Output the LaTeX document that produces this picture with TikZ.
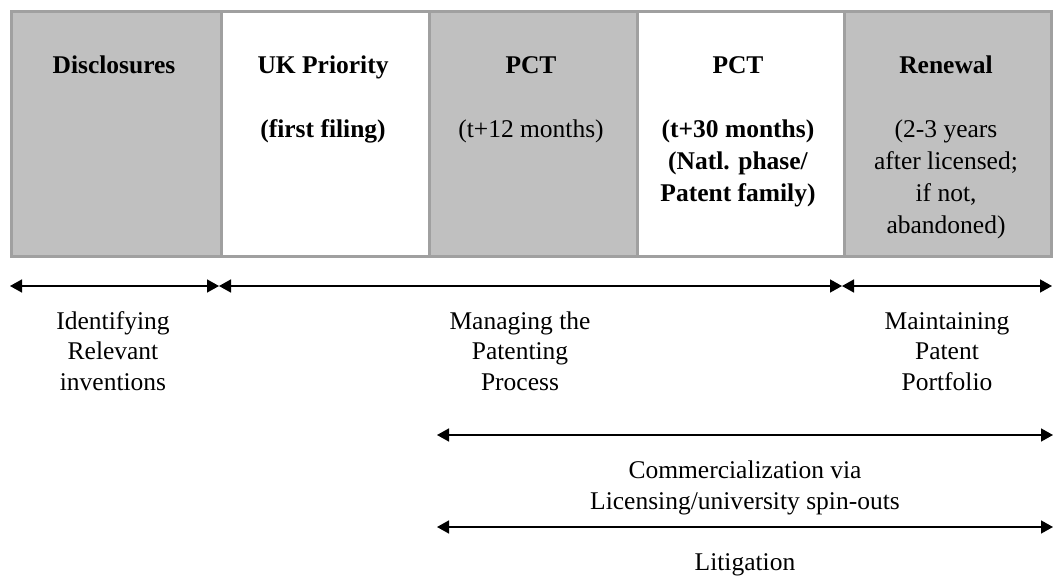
\documentclass[tikz,border=0pt]{standalone}
\usepackage{fontspec}
\setmainfont{Liberation Serif}
\usetikzlibrary{arrows.meta}
\definecolor{boxgray}{HTML}{C0C0C0}
\definecolor{edgegray}{HTML}{A0A0A0}
\begin{document}
\begin{tikzpicture}[x=1bp,y=-1bp,
  col/.style={draw=edgegray, line width=3bp, rectangle, inner sep=0pt, anchor=north west, minimum height=245bp},
  btxtbase/.style={align=center, inner sep=0pt, anchor=base},
  txt/.style={btxtbase, font=\fontsize{25.5bp}{30.5bp}\selectfont},
  ctxt/.style={btxtbase, font=\fontsize{25.5bp}{32bp}\selectfont},
  btxt/.style={btxtbase, font=\fontsize{25.5bp}{32bp}\selectfont\bfseries},
  span/.style={{Triangle[length=12bp,width=13bp]}-{Triangle[length=12bp,width=13bp]}, line width=1.6bp}]
\useasboundingbox (0,0) rectangle (1053,578);
% columns
\node[col, fill=boxgray, minimum width=210bp] (c1) at (10,10) {};
\node[col, fill=white,   minimum width=208bp] (c2) at (220,10) {};
\node[col, fill=boxgray, minimum width=208bp] (c3) at (428,10) {};
\node[col, fill=white,   minimum width=207bp] (c4) at (636,10) {};
\node[col, fill=boxgray, minimum width=207bp] (c5) at (843,10) {};
% column texts (base anchor = baseline of last line)
\node[btxt] (t1) at (114,74) {Disclosures};
\node[btxt] (t2) at (323,74) {UK Priority};
\node[btxt] (s2) at (323,138) {(first filing)};
\node[btxt] (t3) at (531,74) {PCT};
\node[ctxt] (s3) at (531,138) {(t+12 months)};
\node[btxt] (t4) at (738,74) {PCT};
\node[btxt] (s4) at (738,202) {(t+30 months)\\(Natl. phase/\\Patent family)};
\node[btxt] (t5) at (946,74) {Renewal};
\node[ctxt] (s5) at (946,234) {(2-3 years\\after licensed;\\if not,\\abandoned)};
% spans
\coordinate (a0) at (10,286);
\coordinate (a1) at (219,286);
\coordinate (a2) at (842,286);
\coordinate (a3) at (1052,286);
\coordinate (b0) at (437,435);
\coordinate (b1) at (1053,435);
\coordinate (d0) at (437,527);
\coordinate (d1) at (1053,527);
\draw[span] (a0) -- (a1);
\draw[span] (a1) -- (a2);
\draw[span] (a2) -- (a3);
\draw[span] (b0) -- (b1);
\draw[span] (d0) -- (d1);
% span labels
\node[txt] (l1) at (113,390) {Identifying\\Relevant\\inventions};
\node[txt] (l2) at (520,390) {Managing the\\Patenting\\Process};
\node[txt] (l3) at (947,390) {Maintaining\\Patent\\Portfolio};
\node[txt] (l4) at (745,509) {Commercialization via\\Licensing/university spin-outs};
\node[txt] (l5) at (745,570) {Litigation};
\end{tikzpicture}
\end{document}
